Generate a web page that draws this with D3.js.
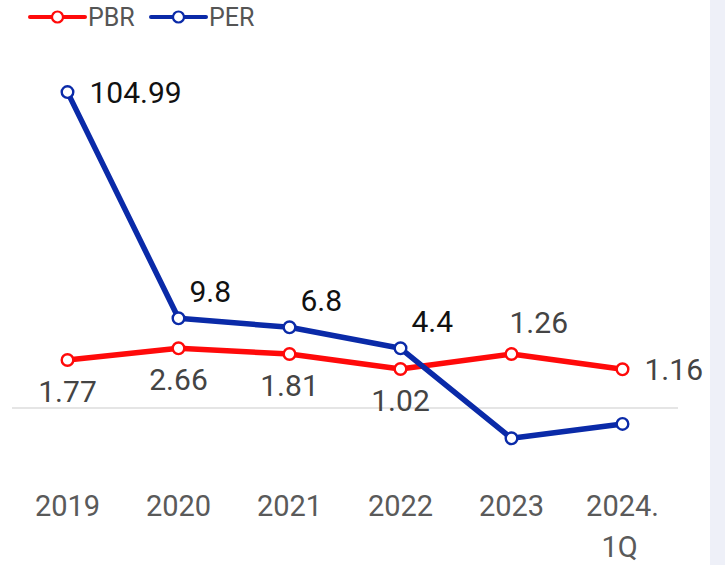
<!DOCTYPE html>
<html lang="en">
<head>
<meta charset="utf-8">
<title>PBR / PER</title>
<script src="https://d3js.org/d3.v7.min.js"></script>
<style>
  body { margin: 0; background: #fff; }
  text { font-family: Roboto, "Noto Sans", sans-serif; }
</style>
</head>
<body>
<script>
// categories (multi-line tick labels)
var categories = [["2019"], ["2020"], ["2021"], ["2022"], ["2023"], ["2024.", "1Q"]];

// plotted values and the printed labels
var pbrValues = [16.0, 19.9, 18.0, 13.0, 18.0, 12.9];
var pbrLabels = ["1.77", "2.66", "1.81", "1.02", "1.26", "1.16"];
var perValues = [105.3, 29.9, 26.9, 19.9, -10.1, -5.3];
var perLabels = ["104.99", "9.8", "6.8", "4.4", "", ""];

var seriesNames = ["PBR", "PER"];
var colors = { PBR: "#ff0a0a", PER: "#0a2aa8" };

var w = 725, h = 565;

var svg = d3.select("body").append("svg")
  .attr("width", w).attr("height", h);

// side strip on the right
svg.append("rect")
  .attr("x", 710).attr("y", 0).attr("width", 15).attr("height", h)
  .attr("fill", "#eef0f8");

var idx = d3.range(categories.length);

var xScale = d3.scalePoint()
  .domain(idx)
  .range([12, 678])
  .padding(0.5);

var yScale = d3.scaleLinear()
  .domain([-20, 120])
  .range([468, 48]);

// zero line
svg.append("line")
  .attr("x1", 12).attr("x2", 678)
  .attr("y1", yScale(0)).attr("y2", yScale(0))
  .attr("stroke", "#dcdcdc").attr("stroke-width", 1.5);

// x axis labels
var xAxis = svg.append("g")
  .attr("transform", "translate(0,516)");
xAxis.selectAll("text")
  .data(categories)
  .enter().append("text")
  .attr("x", function(d, i) { return xScale(i); })
  .attr("text-anchor", "middle")
  .attr("font-size", 29)
  .attr("fill", "#5a5a5a")
  .each(function(d, i) {
    var t = d3.select(this);
    d.forEach(function(line, j) {
      t.append("tspan")
        .attr("x", xScale(i) - (j > 0 ? 3 : 0))
        .attr("dy", j === 0 ? 0 : 41)
        .text(line);
    });
  });

var line = d3.line()
  .x(function(d, i) { return xScale(i); })
  .y(function(d) { return yScale(d); });

function drawSeries(values, color) {
  svg.append("path")
    .datum(values)
    .attr("fill", "none")
    .attr("stroke", color)
    .attr("stroke-width", 5.5)
    .attr("stroke-linejoin", "round")
    .attr("d", line);
  svg.selectAll(null)
    .data(values)
    .enter().append("circle")
    .attr("cx", function(d, i) { return xScale(i); })
    .attr("cy", function(d) { return yScale(d); })
    .attr("r", 5.8)
    .attr("fill", "#fff")
    .attr("stroke", color)
    .attr("stroke-width", 2.4);
}

drawSeries(pbrValues, colors.PBR);
drawSeries(perValues, colors.PER);

// PBR value labels
svg.selectAll(null)
  .data(pbrLabels)
  .enter().append("text")
  .attr("font-size", 30)
  .attr("fill", "#444")
  .each(function(d, i) {
    var px = xScale(i), py = yScale(pbrValues[i]);
    var t = d3.select(this).text(d);
    if (i === categories.length - 1) {
      t.attr("x", px + 22).attr("y", py + 11).attr("text-anchor", "start");
    } else if (i === 4) {
      t.attr("x", px - 2).attr("y", py - 21).attr("text-anchor", "start");
    } else {
      t.attr("x", px).attr("y", py + 42).attr("text-anchor", "middle");
    }
  });

// PER value labels
svg.selectAll(null)
  .data(perLabels)
  .enter().append("text")
  .attr("font-size", 30)
  .attr("fill", "#111")
  .attr("text-anchor", "start")
  .each(function(d, i) {
    var px = xScale(i), py = yScale(perValues[i]);
    var t = d3.select(this).text(d);
    if (i === 0) {
      t.attr("x", px + 22).attr("y", py + 11);
    } else {
      t.attr("x", px + 11).attr("y", py - 16);
    }
  });

// legend
var legend = svg.append("g");
seriesNames.forEach(function(name, k) {
  var x0 = 30 + k * 121;
  var g = legend.append("g").attr("transform", "translate(" + x0 + ",17)");
  g.append("line")
    .attr("x1", 0).attr("x2", 55)
    .attr("stroke", colors[name]).attr("stroke-width", 4)
    .attr("stroke-linecap", "round");
  g.append("circle")
    .attr("cx", 27.5).attr("r", 5.5)
    .attr("fill", "#fff").attr("stroke", colors[name]).attr("stroke-width", 2.2);
  g.append("text")
    .attr("x", 58).attr("y", 9)
    .attr("font-size", 25).attr("fill", "#555")
    .text(name);
});
</script>
</body>
</html>
